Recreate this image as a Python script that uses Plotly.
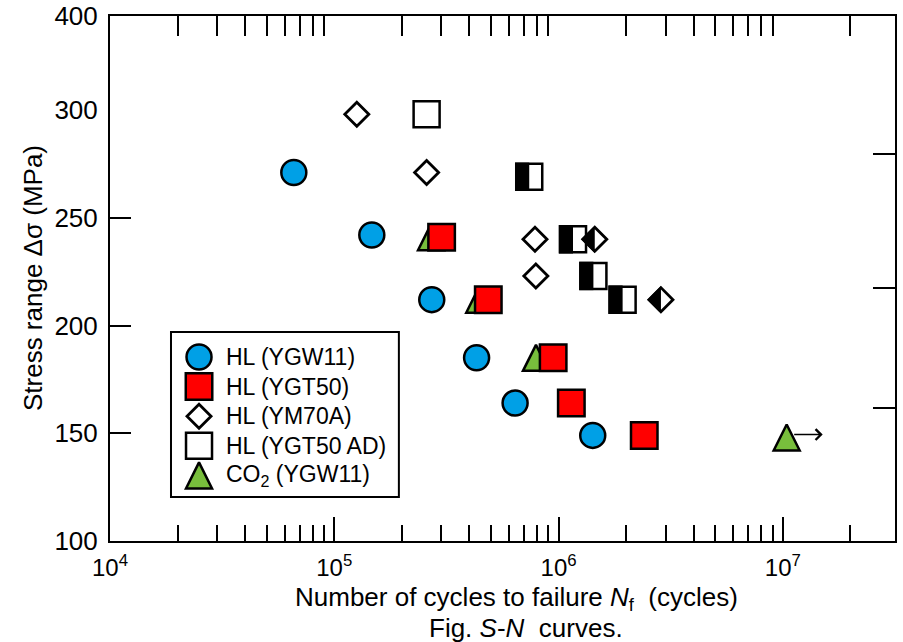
import math
import plotly.graph_objects as go

# ---------------- data: stress range (MPa) vs cycles to failure ----------------
# HL (YGW11)
ygw11_n = [6.6e4, 1.47e5, 2.72e5, 4.31e5, 6.4e5, 1.42e6]
ygw11_s = [271, 242, 212, 185, 164, 149]

# HL (YGT50)
ygt50_n = [3.01e5, 4.86e5, 9.46e5, 1.14e6, 2.41e6]
ygt50_s = [241, 212, 185, 164, 149]

# HL (YM70A); half-filled marks flagged separately
ym70a_n = [1.26e5, 2.58e5, 7.85e5, 7.92e5, 1.45e6, 2.86e6]
ym70a_s = [298, 271, 240, 223, 240, 212]
ym70a_half = [False, False, False, False, True, True]

# HL (YGT50 AD)
ad_n = [2.58e5, 7.4e5, 1.16e6, 1.43e6, 1.93e6]
ad_s = [298, 269, 240, 223, 212]
ad_half = [False, True, True, True, True]

# CO2 (YGW11); last specimen is a run-out
co2_n = [2.70e5, 4.43e5, 7.93e5, 1.04e7]
co2_s = [241, 212, 185, 148]
co2_runout = [False, False, False, True]

legend_labels = ["HL (YGW11)", "HL (YGT50)", "HL (YM70A)", "HL (YGT50 AD)",
                 "CO<sub>2</sub> (YGW11)"]

x_major = [1e4, 1e5, 1e6, 1e7]
x_major_text = ["10<sup>4</sup>", "10<sup>5</sup>", "10<sup>6</sup>", "10<sup>7</sup>"]
x_minor = [k * 10 ** e for e in (4, 5, 6) for k in range(2, 10)] + [2e7]
y_lower_ticks = [100, 150, 200, 250, 300]
y_upper_ticks = [400]
y_right_ticks = [161.6, 217.3, 279.6]

# ---------------- styling ----------------
FONT = "Liberation Sans, Arial, Helvetica, sans-serif"
BLUE = "#00A0E6"
RED = "#FF0000"
GREEN = "#78BE3C"
EDGE = dict(color="black", width=2.5)

marker_circle = dict(symbol="circle", size=25, color=BLUE, line=EDGE)
marker_red = dict(symbol="square", size=26.5, color=RED, line=EDGE)
marker_diamond = dict(symbol="diamond", size=18.5, color="white", line=dict(color="black", width=2.8))
marker_open_sq = dict(symbol="square", size=26, color="white", line=EDGE)
marker_tri = dict(symbol="arrow-down", angle=180, standoff=13, size=26, color=GREEN, line=EDGE)

fig = go.Figure()

def add_series(n, s, marker, name):
    fig.add_trace(go.Scatter(x=n, y=s, mode="markers", marker=marker, name=name,
                             showlegend=False, cliponaxis=False, xaxis="x", yaxis="y"))

add_series(co2_n, co2_s, marker_tri, "CO2 (YGW11)")
add_series(ygt50_n, ygt50_s, marker_red, "HL (YGT50)")
add_series(ygw11_n, ygw11_s, marker_circle, "HL (YGW11)")
add_series(ad_n, ad_s, marker_open_sq, "HL (YGT50 AD)")
add_series(ym70a_n, ym70a_s, marker_diamond, "HL (YM70A)")

# empty traces so the upper band and the right-hand tick axis get their own subplots
fig.add_trace(go.Scatter(x=[], y=[], xaxis="x2", yaxis="y2", showlegend=False, hoverinfo="skip"))
fig.add_trace(go.Scatter(x=[], y=[], xaxis="x", yaxis="y3", showlegend=False, hoverinfo="skip"))

# black left halves of the half-filled marks
shapes = []
SQ_HALF = "M-14.2,-14.2 L0,-14.2 L0,14.2 L-14.2,14.2 Z"
DI_HALF = "M-13.6,0 L0,-13.6 L0,13.6 Z"
for n, s, h in zip(ad_n, ad_s, ad_half):
    if h:
        shapes.append(dict(type="path", xref="x", yref="y", xsizemode="pixel", ysizemode="pixel",
                           xanchor=n, yanchor=s, path=SQ_HALF, fillcolor="black",
                           line=dict(width=0), layer="above"))
for n, s, h in zip(ym70a_n, ym70a_s, ym70a_half):
    if h:
        shapes.append(dict(type="path", xref="x", yref="y", xsizemode="pixel", ysizemode="pixel",
                           xanchor=n, yanchor=s, path=DI_HALF, fillcolor="black",
                           line=dict(width=0), layer="above"))

annotations = []
# run-out arrow
for n, s, ro in zip(co2_n, co2_s, co2_runout):
    if ro:
        annotations.append(dict(x=math.log10(n), y=s, xref="x", yref="y", text="",
                                showarrow=True, ax=-30, ay=0, xshift=36, yshift=3,
                                arrowhead=4, arrowsize=1.4, arrowwidth=1.5,
                                arrowcolor="black", standoff=0, startstandoff=0))

# ---------------- legend box ----------------
leg_x0, leg_x1, leg_y0, leg_y1 = 0.0777, 0.368, 0.0838, 0.398
shapes.append(dict(type="rect", xref="paper", yref="paper", x0=leg_x0, x1=leg_x1,
                   y0=leg_y0, y1=leg_y1, line=dict(color="black", width=2),
                   fillcolor="rgba(0,0,0,0)", layer="above"))
leg_markers = [marker_circle, marker_red, marker_diamond, marker_open_sq, marker_tri]
leg_mx = 0.1134
leg_ty = [0.3505, 0.2941, 0.2377, 0.1813, 0.1250]
for mk, yy in zip(leg_markers, leg_ty):
    fig.add_trace(go.Scatter(x=[leg_mx], y=[yy], mode="markers", marker=mk,
                             showlegend=False, cliponaxis=False, xaxis="x3", yaxis="y4",
                             hoverinfo="skip"))
for lab, yy in zip(legend_labels, leg_ty):
    annotations.append(dict(x=0.1452, y=yy, xref="paper", yref="paper", text=lab,
                            showarrow=False, xanchor="left", yanchor="middle",
                            font=dict(size=23, family=FONT, color="black")))

# ---------------- titles ----------------
annotations.append(dict(x=-0.098, y=0.501, xref="paper", yref="paper",
                        text="Stress range Δσ (MPa)", textangle=-90, showarrow=False,
                        xanchor="center", yanchor="middle",
                        font=dict(size=26, family=FONT, color="black")))
annotations.append(dict(x=0.518, y=-0.1086, xref="paper", yref="paper",
                        text="Number of cycles to failure <i>N</i><sub>f</sub>  (cycles)",
                        showarrow=False, xanchor="center", yanchor="middle",
                        font=dict(size=26, family=FONT, color="black")))
annotations.append(dict(x=0.530, y=-0.1657, xref="paper", yref="paper",
                        text="Fig. <i>S</i>-<i>N</i>  curves.",
                        showarrow=False, xanchor="center", yanchor="middle",
                        font=dict(size=26, family=FONT, color="black")))

SPLIT = 431 / 525  # share of plot height used by the 100-300 MPa band
XRANGE = [4, 7.5]
axis_common = dict(showgrid=False, zeroline=False, linecolor="black", linewidth=2,
                   tickcolor="black", tickwidth=2, automargin=False)

fig.update_layout(
    width=903, height=642,
    margin=dict(l=110, r=8, t=16, b=101),
    paper_bgcolor="white", plot_bgcolor="rgba(0,0,0,0)",
    font=dict(family=FONT, color="black", size=24),
    showlegend=False,
    xaxis=dict(type="log", range=XRANGE, domain=[0, 1], anchor="y",
               showline=True, mirror=False, ticks="inside", ticklen=24,
               tickvals=x_major, ticktext=x_major_text, ticklabelstandoff=4,
               tickfont=dict(size=24),
               minor=dict(tickvals=x_minor, ticks="inside", ticklen=16,
                          tickwidth=2, tickcolor="black"),
               **axis_common),
    yaxis=dict(range=[100, 300], domain=[0, SPLIT], anchor="x",
               showline=True, mirror=False, ticks="inside", ticklen=21,
               tickvals=y_lower_ticks, ticklabelstandoff=5, tickfont=dict(size=26),
               **axis_common),
    xaxis2=dict(type="log", range=XRANGE, domain=[0, 1], anchor="y2", side="top",
                showline=True, ticks="inside", ticklen=20, tickvals=x_minor,
                showticklabels=False, **axis_common),
    yaxis2=dict(range=[300, 400], domain=[SPLIT, 1], anchor="x2",
                showline=True, mirror=True, ticks="", tickvals=y_upper_ticks,
                ticklabelstandoff=5, tickfont=dict(size=26), **axis_common),
    yaxis3=dict(range=[100, 300], overlaying="y", anchor="x", side="right",
                showline=True, ticks="inside", ticklen=22, tickvals=y_right_ticks,
                showticklabels=False, **axis_common),
    xaxis3=dict(range=[0, 1], domain=[0, 1], anchor="y4", visible=False),
    yaxis4=dict(range=[0, 1], domain=[0, 1], anchor="x3", visible=False),
    shapes=shapes,
    annotations=annotations,
)

fig.write_html("out.html")
